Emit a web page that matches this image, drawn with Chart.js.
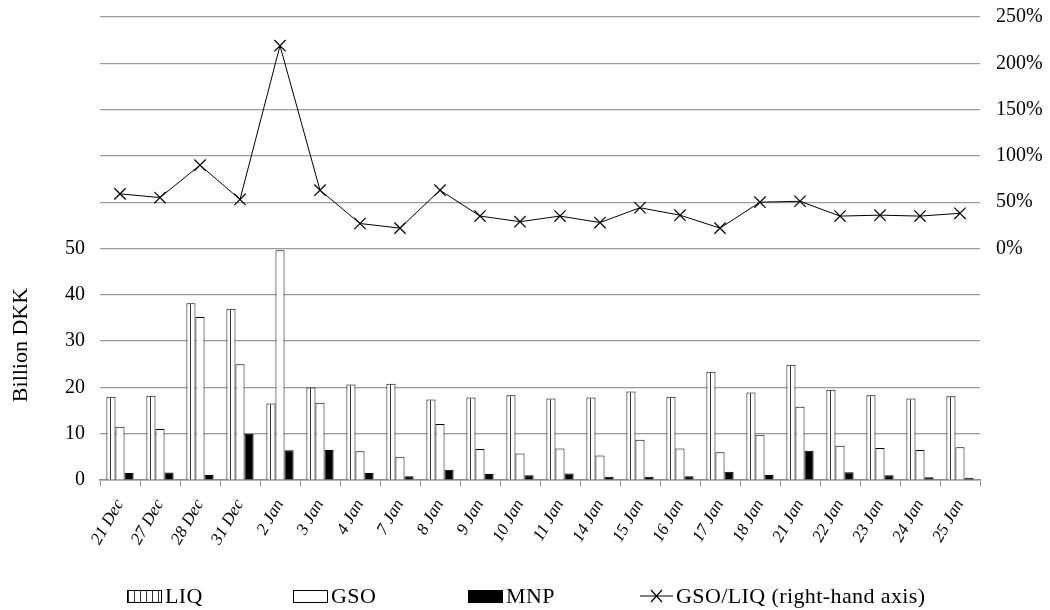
<!DOCTYPE html>
<html>
<head>
<meta charset="utf-8">
<script src="https://cdn.jsdelivr.net/npm/chart.js@4.4.1/dist/chart.umd.min.js"></script>
<style>
  html, body { margin: 0; padding: 0; background: #fff; }
  #wrap { position: relative; width: 1050px; height: 610px; }
  .lg { position: absolute; top: 583px; height: 26px; display: flex; align-items: center;
        font-family: 'Liberation Serif', 'DejaVu Serif', serif; font-size: 22px; color: #000;
        letter-spacing: 0.4px; white-space: nowrap; }
  .box { display: inline-block; width: 33px; height: 11px; border: 1px solid #000; margin-right: 3px; }
  .liq { background: repeating-linear-gradient(90deg, #333 0 1px, #fff 1px 6px); }
  .gso { background: #fff; }
  .mnp { background: #000; }
</style>
</head>
<body>
<div id="wrap">
  <canvas id="myChart"></canvas>
  <div class="lg" style="left:127px"><span class="box liq"></span>LIQ</div>
  <div class="lg" style="left:293px"><span class="box gso"></span>GSO</div>
  <div class="lg" style="left:468px"><span class="box mnp"></span>MNP</div>
  <div class="lg" style="left:640px">
    <svg width="33" height="14" style="margin-right:3px">
      <line x1="0" y1="7" x2="33" y2="7" stroke="#000" stroke-width="1"/>
      <line x1="11" y1="1" x2="22" y2="13" stroke="#000" stroke-width="1.2"/>
      <line x1="11" y1="13" x2="22" y2="1" stroke="#000" stroke-width="1.2"/>
    </svg>GSO/LIQ (right-hand axis)</div>
</div>
<script>
var dates = ["21 Dec", "27 Dec", "28 Dec", "31 Dec", "2 Jan", "3 Jan", "4 Jan", "7 Jan", "8 Jan", "9 Jan", "10 Jan",
             "11 Jan", "14 Jan", "15 Jan", "16 Jan", "17 Jan", "18 Jan", "21 Jan", "22 Jan", "23 Jan", "24 Jan", "25 Jan"];
var liq = [18.0, 18.2, 38.2, 37.0, 16.5, 20.0, 20.6, 20.8, 17.4, 17.8, 18.3, 17.6, 17.8, 19.1, 18.0, 23.4, 18.9, 24.9, 19.5, 18.3, 17.6, 18.1];
var gso = [11.5, 11.0, 35.2, 25.0, 49.6, 16.7, 6.2, 5.0, 12.1, 6.7, 5.7, 6.8, 5.3, 8.7, 6.8, 6.0, 9.8, 15.8, 7.4, 6.9, 6.5, 7.1];
var mnp = [1.5, 1.6, 1.1, 10.0, 6.4, 6.5, 1.5, 0.8, 2.2, 1.3, 1.0, 1.4, 0.7, 0.7, 0.8, 1.8, 1.1, 6.3, 1.7, 1.0, 0.6, 0.5];
var ratio = [59, 55, 90, 53, 219, 63, 27, 22, 63, 35, 29, 35, 28, 44, 36, 22, 50, 51, 35, 36, 35, 38];
var leftTicks = [0, 10, 20, 30, 40, 50];
var rightTicks = [0, 50, 100, 150, 200, 250];

var serif = "'Liberation Serif', 'DejaVu Serif', serif";

// vertical stripes for LIQ
function stripes() {
    var c = document.createElement("canvas");
    c.width = 5; c.height = 4;
    var g = c.getContext("2d");
    g.fillStyle = "#fff";
    g.fillRect(0, 0, 5, 4);
    g.fillStyle = "#333";
    g.fillRect(0, 0, 1, 4);
    return g.createPattern(c, "repeat");
}

var yTitle = {
    id: "yTitle",
    afterDraw: function(chart) {
        var ctx = chart.ctx;
        ctx.save();
        ctx.translate(21, 345);
        ctx.rotate(-Math.PI / 2);
        ctx.font = "22px " + serif;
        ctx.fillStyle = "#000";
        ctx.textAlign = "center";
        ctx.textBaseline = "middle";
        ctx.fillText("Billion DKK", 0, 0);
        ctx.restore();
    }
};

new Chart("myChart", {
    type: "bar",
    data: {
        labels: dates,
        datasets: [{
            type: "line",
            label: "GSO/LIQ (right-hand axis)",
            data: ratio,
            yAxisID: "y1",
            borderColor: "#000",
            borderWidth: 1,
            pointStyle: "crossRot",
            pointRadius: 8,
            pointBorderWidth: 1.2,
            pointBorderColor: "#000",
            fill: false,
            tension: 0,
            order: 0
        }, {
            label: "LIQ",
            data: liq,
            backgroundColor: stripes(),
            borderColor: "#000",
            borderWidth: 1,
            order: 1
        }, {
            label: "GSO",
            data: gso,
            backgroundColor: "#fff",
            borderColor: "#000",
            borderWidth: 1,
            order: 1
        }, {
            label: "MNP",
            data: mnp,
            backgroundColor: "#000",
            borderColor: "#000",
            borderWidth: 1,
            order: 1
        }]
    },
    options: {
        responsive: true,
        maintainAspectRatio: false,
        animation: false,
        datasets: { bar: { categoryPercentage: 0.68, barPercentage: 1.0 } },
        layout: { padding: { top: 17, left: 0, right: 0, bottom: 60 } },
        plugins: {
            legend: { display: false },
            tooltip: { enabled: false }
        },
        scales: {
            x: {
                offset: true,
                grid: { offset: true, drawOnChartArea: false, drawTicks: true, tickLength: 6, color: "#8c8c8c" },
                border: { color: "#8c8c8c", width: 1.5 },
                ticks: {
                    autoSkip: false, minRotation: 60, maxRotation: 60, padding: 10, color: "#000",
                    font: { family: serif, size: 17, style: "italic" }
                },
                afterFit: function(s) { s.height = 70; }
            },
            y: {
                position: "left",
                min: 0, max: 100,
                grid: { color: "#9a9a9a", lineWidth: 1.2, drawTicks: true, tickLength: 14, tickColor: "rgba(0,0,0,0)" },
                border: { display: false },
                ticks: {
                    stepSize: 10, padding: 1, color: "#000",
                    font: { family: serif, size: 20 },
                    callback: function(v) { return leftTicks.indexOf(v) >= 0 ? v : ""; }
                },
                afterFit: function(s) { s.width = 100; }
            },
            y1: {
                position: "right",
                min: -250, max: 250,
                grid: { drawOnChartArea: false, drawTicks: true, tickLength: 15, tickColor: "rgba(0,0,0,0)" },
                border: { display: false },
                ticks: {
                    stepSize: 50, padding: 1, color: "#000",
                    font: { family: serif, size: 20 },
                    callback: function(v) { return rightTicks.indexOf(v) >= 0 ? v + "%" : ""; }
                },
                afterFit: function(s) { s.width = 70; }
            }
        }
    },
    plugins: [yTitle]
});
</script>
</body>
</html>
